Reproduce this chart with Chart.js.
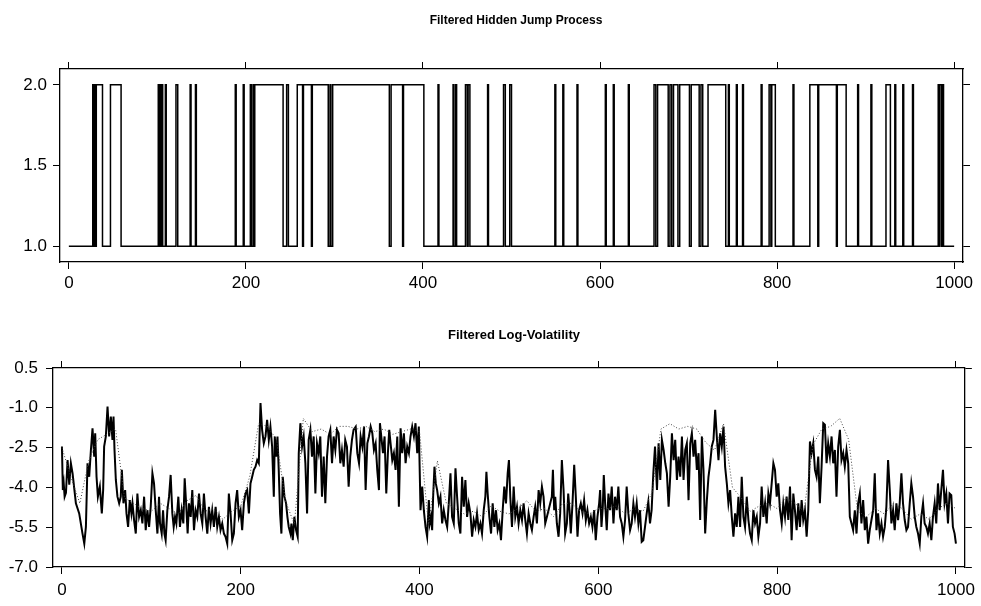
<!DOCTYPE html>
<html><head><meta charset="utf-8">
<script src="https://cdn.jsdelivr.net/npm/chart.js@4.4.1/dist/chart.umd.min.js"></script>
<style>
html,body{margin:0;padding:0;background:#fff;}
#wrap{position:relative;width:981px;height:606px;overflow:hidden;}
canvas{position:absolute;left:0;}
#c1{top:0;} #c2{top:303px;}
</style></head><body>
<div id="wrap"><canvas id="c1" width="981" height="303"></canvas><canvas id="c2" width="981" height="303"></canvas></div>
<script>
// ---------- DATA ----------
const xTickValues = [0, 200, 400, 600, 800, 1000];
const jumpTickValues = [1.0, 1.5, 2.0];
const volTickValues = [-7.0, -5.5, -4.0, -2.5, -1.0, 0.5];
const titles = ["Filtered Hidden Jump Process", "Filtered Log-Volatility"];

// time intervals [start, end) where the hidden jump process is in state 2 (otherwise state 1)
const regime2Intervals = [
  [27,28],[29,30],[31,38],[47,59],
  [101,102],[103,104],[105,106],[109,110],[121,123],[137,138],[143,144],
  [188,189],[197,198],[205,206],[208,209],[210,242],[246,248],[258,264],[265,274],[275,293],
  [295,296],[298,362],[364,377],[378,401],
  [417,418],[434,435],[437,438],[448,450],[451,453],[473,474],[491,493],[498,500],
  [549,550],[558,559],[574,575],[606,607],[615,616],[632,633],
  [661,663],[665,677],[679,681],[683,688],[690,701],[703,712],[714,716],[722,742],[745,746],
  [754,755],[761,762],[782,783],[791,793],[794,798],[818,819],[837,846],[847,867],[868,878],
  [891,892],[906,907],[923,928],[933,934],[942,943],[953,954],[982,983],[984,986],[987,988]
];

// filtered log-volatility (solid line): time and value
const volT = [
  0,1,2,3,4.5,6.3,8.2,10,11.9,15.6,
  19.3,23,25,26.8,28.6,30.5,32.4,34.2,36.1,37.2,
  38.7,40.2,42.4,44.6,46.1,47.2,49.1,51,52.8,54.7,
  56.5,57.7,58.8,60.3,62.1,64,65.8,67,68.8,70.7,
  72.2,74,75.9,77.7,78.9,80.7,82.6,84.4,86.3,88.2,
  90,91.9,93.7,95.6,97.5,99.3,101.2,103,104.9,106.8,
  108.6,109.7,111.6,113.1,114.6,116,117.9,119.8,121.6,123.5,
  125,126.5,128,130.2,132,133.9,135.8,137.3,139.1,140.6,
  142.1,144,145.8,147.7,149.5,151.4,153.3,155.1,157,158.8,
  160.7,162.6,164.4,166.3,168.1,170,171.9,173.7,175.6,177.4,
  179.3,181.2,183,184.9,186.7,188.6,190.5,192.3,194.2,196,
  197.9,199.8,201.6,203.5,205.3,207.2,209.1,210.9,212.8,214.6,
  216.5,218.4,220.2,222.1,223.9,225.8,227.7,229.5,231.4,233.2,
  235.1,237,238.1,239.6,241.1,242.5,244,245.5,247,248.9,
  250.7,252.2,253.7,255.6,256.7,258.2,260,261.9,263.7,264.9,
  266.7,268.6,270.4,272.3,274.2,276,277.9,279.7,281.6,283.5,
  285.3,287.2,289,290.9,292.8,294.6,296.5,298.3,300.2,302.1,
  303.9,305.8,307.6,309.5,311.4,313.2,315.1,316.9,318.8,320.7,
  322.5,324.4,326.2,328.6,330.4,332.3,334.1,336,337.9,339.7,
  341.6,343.4,345.3,347.2,349,350.9,352.7,354.6,355.7,357.2,
  359.1,360.9,362.8,364.6,366.1,367.6,369.5,371.3,373.2,375.1,
  376.9,378.8,380.6,382.5,384.4,386.2,388.1,389.9,391.8,393.7,
  395.5,397.4,399.2,401.1,403,404.8,406.7,408.5,410.4,411.5,
  413,414.1,415.2,416.7,418.2,419.7,421.6,423.4,425.3,427.1,
  429,430.9,432.7,434.6,436.4,438.3,440.2,442,443.9,445.7,
  447.6,449.5,451.3,453.2,455,456.9,458.8,460.6,462.5,464.3,
  466.2,468.1,469.9,471.8,473.6,474.8,476.2,478.1,480,481.8,
  483.7,485.5,487.4,489.3,491.1,493,494.8,496.7,498.6,500,
  501.5,503.4,505.3,507.1,509,510.8,512.7,514.6,516.4,518.3,
  520.1,522,523.9,525.7,527.6,529.4,531.3,533.2,535,536.9,
  538.7,540.6,542.5,544.3,546.2,548,549.2,550.6,551.8,553.6,
  555.5,557.3,559.2,561.1,562.9,564.8,566.3,567.8,569.2,571.1,
  573,574.8,576.7,578.5,580.4,582.3,584.1,586,587.8,589.7,
  591.6,593.4,595.3,597.1,599,600.9,602,603.5,605,606.1,
  607.6,609.4,611.3,613.1,615,616.9,618.7,620.6,622.4,624.3,
  626.2,628,629.9,631.7,633.6,635.5,637.3,639.2,641,642.9,
  644.8,646.6,648.5,650.3,652.2,654.1,655.9,657.8,659.6,661.5,
  663.4,665.6,667.4,669.3,671.1,673,674.9,676.7,678.6,680.4,
  682.3,684.2,686,687.9,689.7,691.6,693.5,695.3,697.2,699,
  700.9,702.8,704.6,706.5,708.3,710.2,712.1,713.9,715.8,717.6,
  719.5,721.4,723.2,725.1,726.9,728.8,730.7,732.5,734.4,736.2,
  738.1,740,741.8,743.7,745.5,747.4,749.3,751.1,753,754.8,
  756.7,758.6,760.4,762.3,764.1,766,767.9,769.7,771.6,773.4,
  775.3,777.2,779,780.9,782.7,784.6,786.5,788.3,790.2,792,
  793.9,795.8,797.6,799.5,801.3,803.2,805.1,806.9,808.8,810.6,
  812.5,814.4,816.2,818.1,819.9,821.8,823.7,825.5,827.4,829.2,
  831.1,833,834.8,836.7,838.5,840.4,842.3,844.1,846,847.8,
  849.7,851.6,853.4,855.3,857.1,859,860.9,862.7,864.6,866.4,
  868.3,870.2,872,873.9,875.7,877.6,879.5,881.3,883.2,885,
  886.9,888.8,890.6,892.5,894.3,896.2,898.1,899.9,901.8,903.6,
  905.5,907.4,909.2,911.1,912.9,914.8,916.7,918.5,920.4,922.2,
  924.1,926,927.8,929.7,931.5,933.4,935.3,937.1,939,940.8,
  942.7,944.6,946.4,948.3,950.1,952,953.9,955.7,957.6,959.5,
  961.3,963.2,965,966.9,968.7,970.6,972.5,974.3,976.2,978,
  979.9,981.8,983.6,985.5,987.3,989.2,991.1,992.9,994.8,996.6,
  998.5,1000
];
const volY = [
  -2.46,-4.10,-3.85,-4.35,-4.20,-2.97,-3.90,-3.09,-3.47,-4.60,
  -4.98,-5.74,-6.12,-5.49,-3.09,-3.60,-2.59,-1.77,-2.84,-1.96,
  -3.60,-4.35,-3.97,-4.98,-4.10,-2.46,-2.08,-0.95,-2.08,-1.33,
  -2.21,-1.33,-2.59,-3.72,-4.35,-4.60,-4.35,-3.34,-4.60,-4.10,
  -4.98,-5.49,-4.48,-4.98,-4.60,-5.23,-5.74,-4.23,-5.11,-4.86,
  -5.36,-4.35,-5.61,-4.86,-5.49,-4.73,-3.47,-3.85,-4.86,-5.74,
  -4.35,-5.36,-5.74,-4.86,-5.74,-5.99,-4.86,-4.35,-3.53,-4.98,
  -5.49,-5.11,-5.36,-4.35,-5.49,-4.86,-5.36,-3.66,-4.73,-5.74,
  -4.60,-5.11,-4.10,-5.61,-4.86,-5.11,-4.23,-4.98,-5.36,-4.23,
  -5.11,-5.74,-4.73,-5.36,-4.86,-5.49,-4.73,-5.49,-5.11,-5.61,
  -5.36,-5.74,-5.86,-6.12,-4.23,-4.98,-5.99,-5.74,-4.60,-4.10,
  -5.11,-4.86,-5.61,-4.60,-4.23,-4.10,-4.98,-3.85,-3.60,-3.34,
  -3.22,-2.97,-3.09,-0.82,-1.83,-2.34,-2.08,-1.45,-2.21,-1.71,
  -2.46,-4.35,-2.08,-2.84,-2.08,-3.34,-4.98,-5.74,-3.60,-4.35,
  -4.60,-5.11,-5.49,-5.74,-5.36,-5.99,-5.11,-5.61,-5.86,-2.71,
  -1.58,-2.46,-2.08,-3.09,-4.98,-2.21,-1.83,-2.84,-2.08,-4.23,
  -2.34,-2.71,-2.08,-4.35,-2.84,-4.60,-2.84,-2.08,-1.83,-3.09,
  -2.08,-2.59,-1.83,-1.96,-3.09,-2.59,-3.22,-2.21,-2.46,-3.97,
  -2.84,-2.21,-1.83,-1.71,-2.71,-3.09,-2.08,-2.46,-1.71,-4.10,
  -2.34,-2.08,-1.71,-1.96,-2.59,-2.34,-3.34,-4.10,-1.58,-2.08,
  -2.71,-2.08,-4.23,-2.71,-1.83,-2.34,-2.97,-2.71,-3.34,-2.08,
  -4.73,-1.77,-2.71,-1.96,-3.09,-2.46,-2.71,-2.08,-1.71,-2.08,
  -1.58,-2.71,-1.71,-4.86,-3.97,-4.86,-5.49,-5.86,-4.48,-5.36,
  -5.11,-5.61,-4.35,-3.22,-3.85,-4.10,-4.60,-4.35,-5.36,-4.86,
  -5.23,-5.49,-4.60,-3.47,-5.11,-5.36,-3.28,-4.35,-5.36,-5.74,
  -3.60,-4.73,-3.72,-5.11,-4.60,-4.98,-5.86,-5.23,-5.49,-4.98,
  -5.61,-5.36,-5.74,-4.86,-4.35,-3.41,-4.23,-5.11,-5.74,-4.60,
  -5.49,-4.86,-5.61,-5.36,-5.99,-4.86,-3.97,-4.60,-3.47,-2.97,
  -4.35,-5.49,-3.97,-5.11,-4.73,-5.36,-4.86,-5.23,-4.60,-5.23,
  -5.74,-4.98,-5.36,-5.61,-5.11,-4.73,-5.36,-4.10,-4.60,-3.97,
  -4.35,-5.36,-5.11,-4.86,-4.60,-4.35,-3.34,-4.86,-4.35,-5.36,
  -5.86,-4.98,-2.97,-4.10,-5.74,-5.36,-4.23,-4.86,-5.74,-4.60,
  -3.15,-4.35,-5.86,-4.86,-4.60,-4.98,-4.48,-5.23,-4.86,-5.36,
  -5.11,-5.49,-4.86,-5.99,-5.11,-4.60,-4.10,-5.49,-4.73,-3.53,
  -4.60,-5.61,-4.23,-4.86,-3.97,-5.36,-4.35,-4.86,-3.97,-5.11,
  -5.36,-5.86,-5.23,-3.97,-4.98,-5.61,-5.36,-4.60,-5.11,-4.60,
  -5.36,-4.86,-6.05,-5.99,-5.49,-4.98,-4.54,-5.36,-4.86,-3.47,
  -2.46,-4.10,-2.34,-3.72,-2.21,-2.59,-3.09,-3.47,-4.73,-3.60,
  -1.96,-2.97,-2.21,-3.72,-2.84,-3.60,-2.08,-3.72,-2.59,-2.34,
  -4.48,-2.34,-1.96,-2.84,-2.21,-3.34,-2.71,-5.23,-2.08,-3.34,
  -5.74,-4.48,-3.60,-3.09,-2.46,-2.21,-1.08,-2.08,-2.97,-1.96,
  -2.46,-1.71,-3.22,-3.85,-4.60,-4.10,-5.11,-5.86,-4.98,-5.49,
  -4.35,-5.49,-3.60,-5.11,-5.49,-4.35,-5.23,-5.74,-5.99,-4.86,
  -5.36,-5.11,-5.86,-5.36,-3.97,-5.11,-4.60,-5.36,-4.23,-4.60,
  -3.85,-3.09,-3.34,-4.35,-3.85,-4.86,-5.36,-4.60,-5.11,-4.35,
  -5.23,-3.97,-5.99,-4.23,-4.86,-5.61,-4.60,-5.49,-4.48,-5.23,
  -4.86,-5.86,-4.86,-2.27,-2.71,-2.34,-3.34,-3.60,-2.84,-4.60,
  -3.22,-1.58,-1.64,-3.09,-2.34,-2.84,-2.08,-3.09,-2.59,-4.35,
  -2.46,-1.83,-2.97,-2.71,-3.22,-2.59,-3.09,-5.11,-5.36,-5.61,
  -4.86,-5.74,-4.60,-4.23,-5.36,-4.48,-5.61,-5.11,-6.12,-5.61,
  -5.23,-4.86,-3.47,-5.61,-4.98,-5.74,-5.36,-5.86,-5.49,-4.73,
  -2.97,-4.10,-5.36,-4.86,-5.61,-4.60,-5.23,-4.60,-3.47,-4.60,
  -5.23,-5.61,-5.49,-4.60,-3.85,-4.35,-5.11,-5.49,-5.74,-6.12,
  -5.11,-4.60,-5.36,-5.49,-5.74,-5.36,-5.99,-5.11,-4.60,-5.36,
  -3.85,-4.86,-4.10,-3.34,-4.60,-4.23,-5.36,-4.23,-4.29,-5.49,
  -5.74,-6.12
];

// second (dotted) series, one value every 10 time steps from 0 to 1000
const dotStep = 10;
const dotY = [
  -2.5,-3.6,-4.6,-3.0,-2.2,-2.0,-1.8,-4.4,-4.6,-4.8,
  -4.9,-4.6,-4.8,-5.0,-4.5,-4.3,-4.9,-4.8,-5.2,-4.9,
  -4.7,-3.6,-1.6,-1.7,-2.2,-4.5,-5.4,-1.4,-1.9,-1.8,
  -2.0,-1.7,-1.7,-1.8,-1.7,-1.9,-1.8,-2.0,-1.9,-1.8,
  -1.9,-5.4,-3.0,-4.6,-4.8,-5.0,-4.9,-5.1,-4.7,-4.9,
  -5.0,-4.8,-4.5,-4.9,-4.8,-5.1,-4.6,-4.6,-4.9,-5.0,
  -4.8,-4.8,-4.7,-5.0,-4.8,-4.9,-4.2,-1.8,-1.6,-1.8,
  -1.7,-1.8,-2.3,-2.6,-1.6,-4.0,-4.4,-4.9,-4.7,-4.6,
  -4.8,-4.4,-4.6,-4.9,-2.4,-1.8,-1.7,-1.4,-2.2,-4.9,
  -5.1,-4.8,-5.0,-4.6,-4.8,-5.2,-5.0,-5.2,-4.8,-4.6,
  -4.8
];

// ---------- BUILD ----------
const jumpPoints = [{x:0, y:1}];
regime2Intervals.forEach(([s, e]) => { jumpPoints.push({x:s, y:2}, {x:e, y:1}); });
jumpPoints.push({x:1000, y:1});
const volPoints = volT.map((t, i) => ({x:t, y:volY[i]}));
const dotPoints = dotY.map((v, i) => ({x:i * dotStep, y:v}));

const FONT = '"Liberation Sans", Arial, Helvetica, sans-serif';

const titlePlugin = {
  id: 'panelTitle',
  afterDraw(chart, args, opts) {
    const ctx = chart.ctx;
    ctx.save();
    ctx.font = 'bold ' + opts.size + 'px ' + FONT;
    ctx.fillStyle = '#000';
    ctx.textAlign = 'center';
    ctx.textBaseline = 'middle';
    ctx.fillText(opts.text, opts.x, opts.y);
    ctx.restore();
  }
};

function makeScales(yMin, yMax, yTicks, sz) {
  const grid = {drawOnChartArea:false, drawTicks:true, tickLength:7, color:'#000', lineWidth:1};
  const border = {display:true, color:'#000', width:1.3};
  const tickFont = {family:FONT, size:17};
  const setX = s => { s.ticks = xTickValues.map(v => ({value:v})); };
  const setY = s => { s.ticks = yTicks.map(v => ({value:v})); };
  return {
    x: {type:'linear', position:'bottom', min:-10, max:1010, grid, border,
        ticks:{font:tickFont, color:'#000', padding:sz.xpad, maxRotation:0, callback:v => String(v)},
        afterBuildTicks:setX, afterFit:s => { s.height = sz.bottom; }},
    xTop: {type:'linear', axis:'x', position:'top', min:-10, max:1010, grid, border,
        ticks:{display:false}, afterBuildTicks:setX, afterFit:s => { s.height = sz.top; }},
    y: {type:'linear', position:'left', min:yMin, max:yMax, grid, border,
        ticks:{font:tickFont, color:'#000', padding:sz.ypad, callback:v => Number(v).toFixed(1)},
        afterBuildTicks:setY, afterFit:s => { s.width = sz.left; }},
    yRight: {type:'linear', axis:'y', position:'right', min:yMin, max:yMax, grid, border,
        ticks:{display:false}, afterBuildTicks:setY, afterFit:s => { s.width = sz.right; }}
  };
}

const common = {
  responsive:false, animation:false, devicePixelRatio:1,
  layout:{padding:0, autoPadding:false},
  elements:{point:{radius:0}, line:{tension:0}},
  events:[]
};

new Chart(document.getElementById('c1'), {
  type:'line',
  data:{datasets:[{data:jumpPoints, borderColor:'#000', borderWidth:1.5, stepped:true, pointRadius:0, fill:false}]},
  options:Object.assign({}, common, {
    scales:makeScales(0.902, 2.098, jumpTickValues, {top:69, bottom:41, left:60, right:18, xpad:4, ypad:6}),
    plugins:{legend:{display:false}, tooltip:{enabled:false}, title:{display:false},
             panelTitle:{text:titles[0], x:516, y:21, size:12}}
  }),
  plugins:[titlePlugin]
});

new Chart(document.getElementById('c2'), {
  type:'line',
  data:{datasets:[
    {data:dotPoints, borderColor:'#444', borderWidth:1, borderDash:[1,2], pointRadius:0, fill:false},
    {data:volPoints, borderColor:'#000', borderWidth:2, pointRadius:0, fill:false}
  ]},
  options:Object.assign({}, common, {
    scales:makeScales(-7, 0.5, volTickValues, {top:65, bottom:39, left:53, right:14, xpad:6, ypad:8}),
    plugins:{legend:{display:false}, tooltip:{enabled:false}, title:{display:false},
             panelTitle:{text:titles[1], x:514, y:32, size:13}}
  }),
  plugins:[titlePlugin]
});
</script>
</body></html>
